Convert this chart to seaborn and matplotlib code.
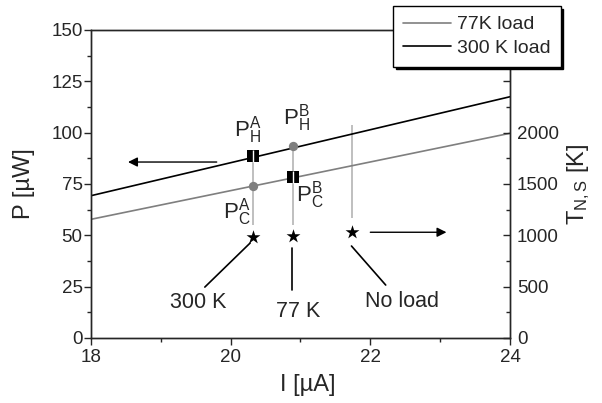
import matplotlib
matplotlib.use('Agg')
import matplotlib.pyplot as plt
import seaborn as sns
import pandas as pd
from matplotlib.ticker import MultipleLocator, FixedLocator, FuncFormatter

# load lines, P [uW] vs I [uA]
current = [18, 24]
p_77k = [57.8, 99.7]
p_300k = [69.3, 117.5]

# bias points A and B
i_points = [20.32, 20.89]
p_hot = [88.8, 93.7]
p_cold = [74.0, 78.6]
i_noload = 21.74
p_noload_top = 103.7
p_vline_bottom = [55.0, 55.0, 58.4]

# noise temperature stars (right axis)
star_current = [20.32, 20.89, 21.74]
star_temp = [987, 997, 1036]
star_labels = ['300 K', '77 K', 'No load']

sns.set_style('ticks')
plt.rcParams['font.family'] = ['Liberation Sans', 'DejaVu Sans']
plt.rcParams['mathtext.fontset'] = 'custom'
plt.rcParams['mathtext.rm'] = 'Liberation Sans'
plt.rcParams['mathtext.it'] = 'Liberation Sans'
plt.rcParams['axes.linewidth'] = 1.0

GRAY = '#7f7f7f'
LIGHT = '#b4b4b4'

fig = plt.figure(figsize=(6.02, 4.03), dpi=100)
ax = fig.add_axes([91/602, 1-338/403, 419/602, 308/403])

df_lines = pd.DataFrame({
    'I': current + current,
    'P': p_77k + p_300k,
    'load': ['77K load'] * 2 + ['300 K load'] * 2,
})
sns.lineplot(data=df_lines, x='I', y='P', hue='load',
             palette={'77K load': GRAY, '300 K load': 'black'},
             linewidth=1.2, legend=False, ax=ax)

# vertical guide lines down to the stars
ax.vlines([i_points[0], i_points[1], i_noload], p_vline_bottom,
          [p_hot[0], p_hot[1], p_noload_top], color=LIGHT, lw=1.2, zorder=1)

# squares: A hot, B cold ; circles: A cold, B hot
sq_p = [p_hot[0], p_cold[1]]
ci_p = [p_cold[0], p_hot[1]]
sns.scatterplot(x=i_points, y=sq_p, marker='s', s=80, color='black',
                linewidth=0, ax=ax, zorder=4)
sns.scatterplot(x=i_points, y=sq_p, marker='|', s=70, color='white',
                linewidth=1.0, ax=ax, zorder=5)
sns.scatterplot(x=i_points, y=ci_p, marker='o', s=45, color=GRAY,
                linewidth=0, ax=ax, zorder=4)

ax.set_xlim(18, 24)
ax.set_ylim(0, 150)
ax.xaxis.set_major_locator(MultipleLocator(2))
ax.xaxis.set_minor_locator(MultipleLocator(1))
ax.yaxis.set_major_locator(MultipleLocator(25))
ax.yaxis.set_minor_locator(MultipleLocator(12.5))
ax.tick_params(which='both', direction='out', labelsize=13.5, width=1.0)
ax.tick_params(which='major', length=5)
ax.tick_params(which='minor', length=3)
ax.tick_params(axis='y', pad=1)
ax.tick_params(axis='x', pad=3)
ax.set_xlabel('I [µA]', fontsize=17)
ax.set_ylabel('P [µW]', fontsize=17)
ax.xaxis.set_label_coords(0.518, -0.118)
ax.yaxis.set_label_coords(-0.134, 0.5)

# P labels (sub = H/C, sup = A/B)
lbl = dict(fontsize=16, ha='center', va='center')
ax.text(20.25, 101.3, r'$\mathregular{P}_\mathregular{H}^\mathregular{A}$', **lbl)
ax.text(20.94, 107.2, r'$\mathregular{P}_\mathregular{H}^\mathregular{B}$', **lbl)
ax.text(20.09, 61.4, r'$\mathregular{P}_\mathregular{C}^\mathregular{A}$', **lbl)
ax.text(21.14, 69.7, r'$\mathregular{P}_\mathregular{C}^\mathregular{B}$', **lbl)

# direction arrows
ax.annotate('', xy=(18.53, 85.7), xytext=(19.80, 85.7),
            arrowprops=dict(arrowstyle='-|>', color='black', lw=1.0,
                            mutation_scale=14, shrinkA=0, shrinkB=0))
ax.annotate('', xy=(23.09, 51.5), xytext=(22.0, 51.5),
            arrowprops=dict(arrowstyle='-|>', color='black', lw=1.0,
                            mutation_scale=14, shrinkA=0, shrinkB=0))

# leader lines and labels for the stars
leaders = [((20.28, 46.3), (19.63, 24.8)),
           ((20.88, 43.8), (20.88, 23.4)),
           ((21.73, 44.8), (22.22, 25.8))]
label_pos = [(19.54, 17.5), (20.96, 12.8), (22.46, 18.0)]
for (a, b), pos, txt in zip(leaders, label_pos, star_labels):
    ax.plot([a[0], b[0]], [a[1], b[1]], color='black', lw=1.2)
    ax.text(pos[0], pos[1], txt, fontsize=15.5, ha='center', va='center')

# right axis: noise temperature
ax2 = ax.twinx()
sns.scatterplot(x=star_current, y=star_temp, marker='*', s=110,
                color='black', linewidth=0, ax=ax2, zorder=5)
ax2.set_ylim(0, 3000)
ax2.yaxis.set_major_locator(FixedLocator([0, 500, 1000, 1500, 2000, 2500, 3000]))
ax2.yaxis.set_minor_locator(MultipleLocator(250))
ax2.yaxis.set_major_formatter(FuncFormatter(lambda v, p: f'{v:.0f}' if v <= 2000 else ''))
ax2.tick_params(which='both', direction='in', labelsize=13.5, width=1.0, pad=5)
ax2.tick_params(which='major', length=5)
ax2.tick_params(which='minor', length=3)
ax2.set_ylabel(r'T$_\mathregular{N,S}$ [K]', fontsize=17)
ax2.yaxis.set_label_coords(1.131, 0.5)

# legend with black drop shadow, sticking out above the frame
handles = [ax.lines[0], ax.lines[1]]
leg = ax2.legend(handles, ['77K load', '300 K load'], loc='upper left',
                 bbox_to_anchor=(393/602, 1-6/403), bbox_transform=fig.transFigure,
                 borderaxespad=0, fontsize=14, frameon=True, fancybox=False,
                 framealpha=1, edgecolor='black', handlelength=2.5,
                 handletextpad=0.3, labelspacing=0.3, borderpad=0.5,
                 shadow={'color': 'black', 'alpha': 1})
leg.get_frame().set_linewidth(1.0)
leg.set_zorder(10)

fig.savefig('out.png', dpi=100)
